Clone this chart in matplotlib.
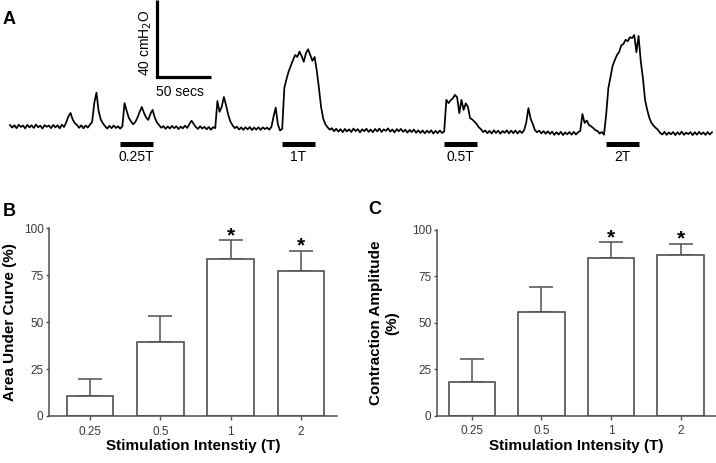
import numpy as np
import matplotlib.pyplot as plt

plt.rcParams['font.family'] = ['Liberation Sans', 'DejaVu Sans']

# --- panel A: bladder pressure trace (cmH2O), one sample every 2 s ---
dt = 2.0
pressure = [
    4.6, 3.3, 4.5, 3.0, 4.8, 3.6, 4.4, 2.9, 4.7, 3.4,
    4.5, 3.1, 4.9, 3.5, 4.3, 2.8, 4.6, 3.7, 4.4, 3.0,
    4.7, 3.4, 4.5, 2.9, 4.8, 3.6, 6.0, 9.0, 10.9, 7.5,
    5.6, 4.6, 3.2, 4.5, 2.9, 4.4, 3.3, 4.8, 6.2, 16.0,
    21.5, 12.0, 7.5, 5.5, 4.0, 2.8, 4.2, 3.0, 4.4, 3.1,
    4.0, 2.7, 4.0, 16.0, 12.0, 8.3, 6.5, 5.0, 6.2, 8.5,
    11.5, 14.0, 11.0, 8.5, 7.3, 10.5, 12.5, 8.5, 6.0, 4.6,
    3.2, 4.1, 2.6, 3.9, 2.8, 4.2, 3.0, 4.0, 2.5, 3.8,
    2.9, 4.3, 3.1, 5.0, 6.9, 5.2, 3.6, 2.6, 4.0, 2.8,
    3.7, 2.4, 3.6, 2.2, 3.5, 3.0, 17.1, 11.5, 14.0, 19.2,
    15.0, 10.0, 6.5, 4.5, 3.0, 3.8, 2.3, 3.4, 2.1, 3.5,
    2.4, 3.6, 2.0, 3.3, 2.2, 3.5, 2.1, 3.4, 2.5, 3.3,
    2.2, 3.6, 9.0, 13.7, 5.0, 1.8, 2.6, 24.0, 28.5, 32.5,
    35.5, 38.4, 41.0, 40.0, 42.8, 40.5, 37.5, 42.0, 44.0, 41.0,
    38.0, 40.0, 33.0, 24.0, 14.0, 8.0, 5.0, 3.5, 2.2, 3.0,
    1.4, 2.7, 1.2, 2.5, 0.9, 2.6, 1.3, 2.4, 1.0, 2.8,
    1.5, 2.5, 0.8, 2.4, 1.4, 2.7, 1.1, 2.3, 0.9, 2.6,
    1.3, 2.8, 1.0, 2.4, 1.6, 2.9, 1.2, 2.3, 0.8, 2.5,
    1.4, 2.6, 1.1, 2.2, 0.7, 2.1, 1.0, 2.3, 0.6, 1.9,
    0.5, 1.8, 0.3, 1.7, 0.6, 1.9, 0.2, 1.6, 0.4, 1.8,
    0.5, 1.2, 17.7, 16.0, 17.5, 18.5, 20.3, 19.0, 10.8, 17.7,
    12.5, 15.9, 14.0, 8.2, 7.5, 6.4, 5.2, 3.5, 2.5, 1.0,
    1.8, 0.4, 1.6, 0.2, 1.9, 0.5, 1.7, 0.1, 1.5, 0.6,
    1.9, 0.3, 1.7, 0.4, 1.8, 0.2, 1.6, 0.5, 1.9, 6.0,
    13.4, 8.0, 5.2, 2.0, 0.9, 1.7, 0.3, 1.5, 0.1, 1.4,
    0.0, 1.2, -0.5, 0.9, -0.3, 1.1, -0.6, 0.8, -0.2, 1.0,
    -0.4, 1.1, -0.3, 0.9, 1.5, 10.4, 5.7, 7.0, 4.7, 4.0,
    3.1, 2.0, 1.5, 0.2, 1.0, -0.4, 10.0, 23.7, 29.6, 35.5,
    38.4, 41.0, 42.6, 46.0, 46.8, 48.9, 48.2, 50.3, 49.8, 51.4,
    42.5, 50.9, 38.0, 29.1, 17.7, 12.5, 8.3, 5.7, 4.2, 3.1,
    2.1, 0.5, -0.3, 1.1, -0.5, 0.8, -0.2, 1.0, -0.6, 0.9,
    -0.3, 1.2, -0.5, 0.7, -0.1, 1.0, -0.6, 0.9, -0.4, 1.1,
    -0.2, 0.8, -0.5, 1.0, -0.3, 0.9,
]
stim_start = [102, 252, 402, 552]
stim_len = 30
stim_labels = ['0.25T', '1T', '0.5T', '2T']
scale_t = 50   # secs
scale_p = 40   # cmH2O

# --- panels B and C ---
intensity = ['0.25', '0.5', '1', '2']
auc_mean = [10.8, 39.6, 83.8, 77.4]
auc_sem = [8.9, 13.7, 9.8, 10.5]
amp_mean = [18.1, 55.8, 84.9, 86.4]
amp_sem = [12.4, 13.4, 8.5, 6.1]
signif = [False, False, True, True]

edge = '#505050'
W, H = 716, 463

fig = plt.figure(figsize=(7.16, 4.63), dpi=100)

# panel A
ax = fig.add_axes([0, 1 - 163 / H, 1, 163 / H])
t = np.arange(len(pressure)) * dt
ax.plot(t, pressure, color='black', lw=1.25)
for s, lab in zip(stim_start, stim_labels):
    ax.plot([s, s + stim_len], [-5.2, -5.2], color='black', lw=3.6,
            solid_capstyle='butt')
    ax.text(s + stim_len / 2, -11.9, lab, ha='center', va='center', fontsize=10)
sx, sy = 136, 69.6
ax.plot([sx, sx, sx + scale_t], [sy, sy - scale_p, sy - scale_p], color='black',
        lw=2.3, solid_joinstyle='miter', solid_capstyle='butt', clip_on=False)
ax.text(sx - 10, sy - scale_p / 2 - 2, '%d cmH$_2$O' % scale_p, rotation=90,
        ha='center', va='center', fontsize=10)
ax.text(sx + 21, sy - scale_p - 8, '%d secs' % scale_t, ha='center',
        va='center', fontsize=10)
ax.set_xlim(-9.3, 653.7)
ax.set_ylim(-15.1, 69.6)
ax.axis('off')


def bar_panel(rect, means, sems, width, xlim, ylabel, xlabel, ylab_x):
    ax = fig.add_axes(rect)
    x = np.arange(len(means))
    ax.errorbar(x, means, yerr=[np.zeros(len(x)), sems], fmt='none',
                ecolor=edge, elinewidth=1.1, capsize=8.5, capthick=1.1, zorder=1)
    ax.bar(x, means, width, color='white', edgecolor=edge, linewidth=1.2, zorder=2)
    for i, (m, s, sig) in enumerate(zip(means, sems, signif)):
        if sig:
            ax.annotate('*', (i, m + s), xytext=(0, -0.5), textcoords='offset points',
                        ha='center', va='baseline', fontsize=15, fontweight='bold',
                        annotation_clip=False)
    ax.set_xlim(*xlim)
    ax.set_ylim(0, 100)
    ax.set_yticks([0, 25, 50, 75, 100])
    ax.set_xticks(x)
    ax.set_xticklabels(intensity)
    for sp in ['top', 'right']:
        ax.spines[sp].set_visible(False)
    for sp in ['left', 'bottom']:
        ax.spines[sp].set_color(edge)
        ax.spines[sp].set_linewidth(1.1)
    ax.tick_params(axis='y', length=2.5, width=1.0, pad=1.5, color=edge,
                   labelsize=8.5, labelcolor='#3a3a3a')
    ax.tick_params(axis='x', length=3, width=1.0, pad=4, color=edge,
                   labelsize=8.5, labelcolor='#3a3a3a')
    ax.set_ylabel(ylabel, fontsize=11, fontweight='bold', multialignment='center')
    ax.set_xlabel(xlabel, fontsize=11, fontweight='bold')
    ax.yaxis.set_label_coords(ylab_x, 0.5)
    ax.xaxis.set_label_coords(0.5, -0.125)
    return ax


bar_panel([49 / W, 1 - 416 / H, 288 / W, 187.7 / H], auc_mean, auc_sem, 0.66,
          (-0.586, 3.515), 'Area Under Curve (%)', 'Stimulation Intenstiy (T)',
          -0.111)
bar_panel([437 / W, 1 - 415.7 / H, 279 / W, 185.7 / H], amp_mean, amp_sem, 0.67,
          (-0.503, 3.51), 'Contraction Amplitude\n(%)',
          'Stimulation Intensity (T)', -0.136)

fig.text(3 / W, 1 - 20 / H, 'A', fontsize=13, fontweight='bold', va='center')
fig.text(3 / W, 1 - 211 / H, 'B', fontsize=13, fontweight='bold', va='center')
fig.text(368 / W, 1 - 209 / H, 'C', fontsize=13, fontweight='bold', va='center')

fig.savefig('out.png', dpi=100)
